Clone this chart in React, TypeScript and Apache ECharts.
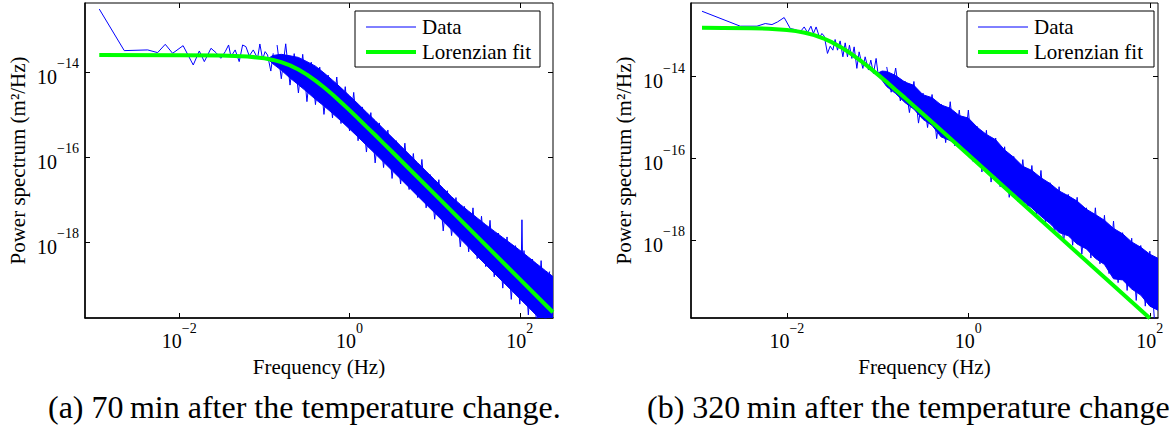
import React, { useEffect, useRef } from 'react';
import * as echarts from 'echarts';

const FONT = 'Liberation Serif, DejaVu Serif, serif';
const BLUE = '#0000ff';
const GREEN = '#00ff00';

// ---------- Panel (a): 70 min ----------
const aLowFreq = [1.15e-3, 2.26e-3, 4.26e-3, 5.57e-3, 6.85e-3, 8.36e-3, 1.11e-2, 1.46e-2, 1.72e-2, 1.97e-2, 2.36e-2, 2.7e-2, 3.08e-2, 3.47e-2, 3.8e-2, 4.05e-2, 4.54e-2, 5.06e-2, 5.55e-2, 6.07e-2, 6.64e-2, 7.4e-2, 8.32e-2, 8.85e-2, 9.53e-2, 0.102, 0.109, 0.119, 0.127];
const aLowPsd = [3.03e-13, 3.18e-14, 3.3e-14, 2.85e-14, 4.48e-14, 2.75e-14, 4.16e-14, 1.46e-14, 3.12e-14, 1.75e-14, 3.61e-14, 2.85e-14, 2.1e-14, 3.01e-14, 4.32e-14, 2.29e-14, 3.3e-14, 1.75e-14, 4.32e-14, 3.94e-14, 2.38e-14, 3.3e-14, 2.1e-14, 4.56e-14, 1.99e-14, 3.01e-14, 2.51e-14, 1.05e-14, 2.75e-14];
const aBandFreq = [0.112, 0.126, 0.158, 0.2, 0.251, 0.316, 0.398, 0.501, 0.631, 0.794, 1, 1.26, 1.58, 2.0, 2.51, 3.16, 3.98, 5.01, 6.31, 7.94, 10, 12.6, 15.8, 20, 25.1, 31.6, 39.8, 50.1, 63.1, 79.4, 100, 126, 158, 200, 245];
const aBandUpper = [2.1e-14, 2.45e-14, 2.6e-14, 2.4e-14, 2.2e-14, 1.75e-14, 1.37e-14, 9.52e-15, 6.41e-15, 4.24e-15, 2.75e-15, 1.77e-15, 1.13e-15, 7.18e-16, 4.55e-16, 2.88e-16, 1.82e-16, 1.15e-16, 7.26e-17, 4.58e-17, 2.89e-17, 1.82e-17, 1.15e-17, 7.6e-18, 5.26e-18, 3.64e-18, 2.52e-18, 1.78e-18, 1.26e-18, 8.93e-19, 6.32e-19, 4.38e-19, 3.03e-19, 2.09e-19, 1.52e-19];
const aBandLower = [1.95e-14, 1.55e-14, 1.1e-14, 7.2e-15, 5.0e-15, 3.4e-15, 2.27e-15, 1.58e-15, 1.06e-15, 7.03e-16, 4.56e-16, 2.93e-16, 1.87e-16, 1.19e-16, 7.55e-17, 4.78e-17, 3.02e-17, 1.91e-17, 1.2e-17, 7.6e-18, 4.8e-18, 3.03e-18, 1.91e-18, 1.18e-18, 7.43e-19, 4.58e-19, 2.89e-19, 1.82e-19, 1.15e-19, 7.26e-20, 4.58e-20, 2.89e-20, 1.82e-20, 1.15e-20, 7.6e-21];
const aNoiseFreq = [0.141, 0.158, 0.178, 0.2, 0.224, 0.251, 0.282, 0.316, 0.355, 0.398, 0.447, 0.501, 0.562, 0.631, 0.708, 0.794, 0.891, 1, 1.12, 1.26, 1.41, 1.58, 1.78, 2.0, 2.24, 2.51, 2.82, 3.16, 3.55, 3.98, 4.47, 5.01, 5.62, 6.31, 7.08, 7.94, 8.91, 10, 11.2, 12.6, 14.1, 15.8, 17.8, 20, 22.4, 25.1, 28.2, 31.6, 35.5, 39.8, 44.7, 50.1, 56.2, 63.1, 70.8, 79.4, 89.1, 100, 112, 126, 141, 158, 178, 200, 224];
const aNoisePsd = [4.3e-14, 6.9e-15, 4.6e-14, 4.9e-15, 2.7e-14, 3.2e-15, 2.6e-14, 2.0e-15, 1.7e-14, 1.7e-15, 1.3e-14, 1.0e-15, 8.4e-15, 8.3e-16, 7.6e-15, 6.1e-16, 4.5e-15, 4.1e-16, 3.3e-15, 2.4e-16, 1.5e-15, 1.3e-16, 1.1e-15, 7.2e-17, 6.3e-16, 5.6e-17, 4.3e-16, 3.1e-17, 2.4e-16, 2.3e-17, 2.1e-16, 1.7e-17, 1.2e-16, 1.1e-17, 8.7e-17, 6.3e-18, 3.8e-17, 3.4e-18, 2.9e-17, 1.8e-18, 1.6e-17, 1.4e-18, 1.1e-17, 7.6e-19, 6.8e-18, 5.8e-19, 6.3e-18, 4.0e-19, 4.0e-18, 2.6e-19, 3.2e-18, 1.5e-19, 1.6e-18, 8.1e-20, 1.3e-18, 4.4e-20, 8.1e-19, 3.4e-20, 6.2e-19, 1.9e-20, 3.9e-19, 1.0e-20, 3.6e-19, 1.0e-20, 2.0e-19];
const aSpikeFreq = [104, 106, 108];
const aSpikePsd = [3.0e-19, 3.3e-18, 3.0e-19];
const aFitFreq = [1.15e-3, 1e-2, 3.16e-2, 6.31e-2, 0.1, 0.126, 0.158, 0.2, 0.251, 0.316, 0.398, 0.501, 0.631, 0.794, 1, 1.26, 1.58, 2.0, 2.51, 3.16, 5.01, 10, 31.6, 100, 245];
const aFitPsd = [2.5e-14, 2.49e-14, 2.45e-14, 2.32e-14, 2.1e-14, 1.92e-14, 1.7e-14, 1.43e-14, 1.14e-14, 8.65e-15, 6.25e-15, 4.35e-15, 2.93e-15, 1.94e-15, 1.26e-15, 8.07e-16, 5.15e-16, 3.28e-16, 2.08e-16, 1.32e-16, 5.26e-17, 1.32e-17, 1.32e-18, 1.32e-19, 2.19e-20];

// ---------- Panel (b): 320 min ----------
const bLowFreq = [1.16e-3, 3.06e-3, 4.68e-3, 5.77e-3, 6.84e-3, 7.89e-3, 9.33e-3, 1.09e-2, 1.23e-2, 1.4e-2, 1.55e-2, 1.69e-2, 1.84e-2, 1.96e-2, 2.1e-2, 2.29e-2, 2.43e-2, 2.58e-2, 2.8e-2, 3.0e-2, 3.21e-2, 3.4e-2, 3.61e-2, 3.86e-2, 4.14e-2, 4.39e-2, 4.65e-2, 4.89e-2, 5.2e-2, 5.51e-2, 5.9e-2, 6.25e-2, 6.87e-2, 7.28e-2, 7.93e-2, 8.41e-2, 8.99e-2, 9.62e-2, 0.102];
const bLowPsd = [3.92e-13, 1.69e-13, 1.69e-13, 1.96e-13, 1.85e-13, 2.15e-13, 2.75e-13, 1.48e-13, 1.4e-13, 1.22e-13, 1.62e-13, 1.18e-13, 1.69e-13, 1.12e-13, 1.62e-13, 8.93e-14, 1.12e-13, 9.62e-14, 3.64e-14, 5.48e-14, 4.38e-14, 7.98e-14, 4.38e-14, 7.38e-14, 3.01e-14, 6.61e-14, 3.01e-14, 5.79e-14, 2.75e-14, 5.27e-14, 1.57e-14, 3.98e-14, 1.57e-14, 3.01e-14, 1.43e-14, 2.5e-14, 1.18e-14, 2.75e-14, 9.79e-15];
const bBandFreq = [0.1, 0.112, 0.126, 0.158, 0.2, 0.251, 0.316, 0.398, 0.501, 0.631, 0.794, 1, 1.26, 1.58, 2.0, 2.51, 3.16, 3.98, 5.01, 6.31, 7.94, 10, 12.6, 15.8, 20, 25.1, 31.6, 39.8, 50.1, 63.1, 79.4, 100, 123];
const bBandUpper = [1.2e-14, 1.35e-14, 1.32e-14, 1.05e-14, 7.24e-15, 6.03e-15, 3.55e-15, 3.02e-15, 2.0e-15, 1.66e-15, 1.1e-15, 9.55e-16, 5.62e-16, 3.8e-16, 2.82e-16, 1.58e-16, 1.05e-16, 6.31e-17, 5.01e-17, 3.31e-17, 2.4e-17, 1.58e-17, 1.2e-17, 8.91e-18, 5.62e-18, 4.17e-18, 3.02e-18, 1.91e-18, 1.41e-18, 8.91e-19, 6.61e-19, 4.47e-19, 3.55e-19];
const bBandLower = [1.05e-14, 8.0e-15, 5.62e-15, 3.8e-15, 2.29e-15, 1.58e-15, 8.91e-16, 6.31e-16, 3.31e-16, 2.69e-16, 1.91e-16, 1.2e-16, 8.32e-17, 5.01e-17, 3.55e-17, 2.0e-17, 1.38e-17, 8.91e-18, 6.03e-18, 3.8e-18, 2.51e-18, 1.51e-18, 1.26e-18, 7.94e-19, 6.03e-19, 3.55e-19, 2.51e-19, 1.12e-19, 1.05e-19, 6.31e-20, 4.47e-20, 2.4e-20, 1.91e-20];
const bNoiseFreq = [0.126, 0.141, 0.158, 0.178, 0.2, 0.224, 0.251, 0.282, 0.316, 0.355, 0.398, 0.447, 0.501, 0.562, 0.631, 0.708, 0.794, 0.891, 1, 1.12, 1.26, 1.41, 1.58, 1.78, 2.0, 2.24, 2.51, 2.82, 3.16, 3.55, 3.98, 4.47, 5.01, 5.62, 6.31, 7.08, 7.94, 8.91, 10, 11.2, 12.6, 14.1, 15.8, 17.8, 20, 22.4, 25.1, 28.2, 31.6, 35.5, 39.8, 44.7, 50.1, 56.2, 63.1, 70.8, 79.4, 89.1, 100, 112];
const bNoisePsd = [1.7e-14, 4.1e-15, 1.6e-14, 2.5e-15, 7.7e-15, 1.3e-15, 7.5e-15, 7.2e-16, 3.9e-15, 5.6e-16, 3.6e-15, 3.0e-16, 2.1e-15, 2.4e-16, 2.4e-15, 2.0e-16, 1.5e-15, 1.4e-16, 1.5e-15, 8.4e-17, 5.9e-16, 4.6e-17, 4.8e-16, 2.6e-17, 3.1e-16, 2.0e-17, 1.9e-16, 1.1e-17, 1.1e-16, 8.6e-18, 9.2e-17, 6.3e-18, 6.6e-17, 4.3e-18, 5.0e-17, 2.6e-18, 2.5e-17, 1.4e-18, 2.0e-17, 8.4e-19, 1.3e-17, 7.4e-19, 1.1e-17, 4.5e-19, 6.1e-18, 3.6e-19, 6.1e-18, 2.6e-19, 4.0e-18, 1.5e-19, 2.9e-18, 9.0e-20, 1.5e-18, 5.8e-20, 1.1e-18, 3.3e-20, 7.3e-19, 2.4e-20, 5.3e-19, 1.2e-20];
const bFitFreq = [1.16e-3, 2e-3, 4e-3, 6.31e-3, 1e-2, 1.26e-2, 1.58e-2, 2e-2, 2.51e-2, 3.16e-2, 3.98e-2, 5.01e-2, 6.31e-2, 7.94e-2, 0.1, 0.126, 0.158, 0.2, 0.251, 0.316, 0.501, 1, 10, 100];
const bFitPsd = [1.54e-13, 1.53e-13, 1.51e-13, 1.47e-13, 1.37e-13, 1.28e-13, 1.17e-13, 1.02e-13, 8.55e-14, 6.78e-14, 5.11e-14, 3.67e-14, 2.54e-14, 1.71e-14, 1.12e-14, 7.28e-15, 4.67e-15, 2.98e-15, 1.89e-15, 1.2e-15, 4.81e-16, 1.21e-16, 1.21e-18, 1.21e-20];

// ---------- Ticks & texts ----------
const xTickExps = [-2, 0, 2];
const yTickExps = [-18, -16, -14];
const legendNames = ['Data', 'Lorenzian fit'];
const xAxisTitle = 'Frequency (Hz)';
const yAxisTitle = 'Power spectrum (m\u00b2/Hz)';
const captions = ['(a) 70\u2009min after the temperature change.', '(b) 320\u2009min after the temperature change'];

const pairs = (xs: number[], ys: number[]) => xs.map((x, i) => [x, ys[i]]);
const expText = (v: number) => {
  const n = Math.round(v);
  return n < 0 ? '\u2212' + Math.abs(n) : String(n);
};

export default function App() {
  const ref = useRef<HTMLDivElement>(null);
  useEffect(() => {
    document.body.style.margin = '0';
    const chart = echarts.init(ref.current!, undefined, { renderer: 'svg' });

    const panels = [
      {
        grid: { left: 85, top: 3, width: 468, height: 315 },
        xr: [-3.107, 2.39], yr: [-19.795, -12.376],
        low: pairs(aLowFreq, aLowPsd), bandF: aBandFreq, bandU: aBandUpper, bandL: aBandLower,
        noise: pairs(aNoiseFreq, aNoisePsd),
        spike: pairs(aSpikeFreq, aSpikePsd), fit: pairs(aFitFreq, aFitPsd),
        legend: { x: 355, w: 185 }, capX: 48,
      },
      {
        grid: { left: 691, top: 3, width: 467, height: 315 },
        xr: [-3.057, 2.09], yr: [-19.91, -12.205],
        low: pairs(bLowFreq, bLowPsd), bandF: bBandFreq, bandU: bBandUpper, bandL: bBandLower,
        noise: pairs(bNoiseFreq, bNoisePsd),
        spike: null as any, fit: pairs(bFitFreq, bFitPsd),
        legend: { x: 967, w: 187 }, capX: 647,
      },
    ];

    const rich = {
      b: { fontSize: 20, fontFamily: FONT, color: '#000', lineHeight: 30, verticalAlign: 'bottom' },
      s: { fontSize: 14, fontFamily: FONT, color: '#000', lineHeight: 12, verticalAlign: 'top' },
    };
    const fmt = (v: number) => `{b|10}{s|${expText(v)}}`;
    const tickStyle = { show: true, inside: true, length: 5, lineStyle: { color: '#000', width: 1 } };

    const grids: any[] = [];
    const xAxes: any[] = [];
    const yAxes: any[] = [];
    const series: any[] = [];
    const graphics: any[] = [];
    const thinBlue = { symbol: 'none', showSymbol: false, lineStyle: { color: BLUE, width: 1 }, z: 3, silent: true };

    panels.forEach((p, i) => {
      grids.push({ ...p.grid, show: true, borderColor: '#000', borderWidth: 1, backgroundColor: '#fff' });
      xAxes.push({ type: 'log', gridIndex: i, min: Math.pow(10, p.xr[0]), max: Math.pow(10, p.xr[1]), show: false });
      yAxes.push({ type: 'log', gridIndex: i, min: Math.pow(10, p.yr[0]), max: Math.pow(10, p.yr[1]), show: false });
      xAxes.push({
        type: 'value', gridIndex: i, position: 'bottom', min: p.xr[0], max: p.xr[1],
        axisLine: { show: true, onZero: false, lineStyle: { color: '#000', width: 1.5 } },
        axisTick: { ...tickStyle, customValues: xTickExps },
        axisLabel: { customValues: xTickExps, formatter: fmt, rich, margin: 3 },
        splitLine: { show: false },
      });
      xAxes.push({
        type: 'value', gridIndex: i, position: 'top', min: p.xr[0], max: p.xr[1],
        axisLine: { show: false, onZero: false },
        axisTick: { ...tickStyle, customValues: xTickExps },
        axisLabel: { show: false }, splitLine: { show: false },
      });
      yAxes.push({
        type: 'value', gridIndex: i, position: 'left', min: p.yr[0], max: p.yr[1],
        axisLine: { show: true, onZero: false, lineStyle: { color: '#000', width: 1.5 } },
        axisTick: { ...tickStyle, customValues: yTickExps },
        axisLabel: { customValues: yTickExps, formatter: fmt, rich, margin: 6 },
        splitLine: { show: false },
      });
      yAxes.push({
        type: 'value', gridIndex: i, position: 'right', min: p.yr[0], max: p.yr[1],
        axisLine: { show: false, onZero: false },
        axisTick: { ...tickStyle, customValues: yTickExps },
        axisLabel: { show: false }, splitLine: { show: false },
      });
      const xi = i * 3;
      const yi = i * 3;
      const bandF = p.bandF, bandU = p.bandU, bandL = p.bandL;
      series.push({
        type: 'custom', name: legendNames[0], xAxisIndex: xi, yAxisIndex: yi, coordinateSystem: 'cartesian2d',
        clip: true, silent: true, z: 2,
        data: [[bandF[0], bandU[0]]],
        renderItem: (params: any, api: any) => {
          const pts: number[][] = [];
          for (let k = 0; k < bandF.length; k++) pts.push(api.coord([bandF[k], bandU[k]]));
          for (let k = bandF.length - 1; k >= 0; k--) pts.push(api.coord([bandF[k], bandL[k]]));
          const cs = params.coordSys;
          return {
            type: 'polygon',
            shape: { points: pts },
            style: { fill: BLUE, stroke: BLUE, lineWidth: 1 },
            clipPath: { type: 'rect', shape: { x: cs.x, y: cs.y, width: cs.width, height: cs.height } },
          };
        },
      });
      series.push({ type: 'line', name: legendNames[0], xAxisIndex: xi, yAxisIndex: yi, data: p.noise, ...thinBlue });
      series.push({ type: 'line', name: legendNames[0], xAxisIndex: xi, yAxisIndex: yi, data: p.low, ...thinBlue });
      if (p.spike) {
        series.push({ type: 'line', name: legendNames[0], xAxisIndex: xi, yAxisIndex: yi, data: p.spike, ...thinBlue });
      }
      series.push({
        type: 'line', name: legendNames[1], xAxisIndex: xi, yAxisIndex: yi, data: p.fit,
        symbol: 'none', showSymbol: false, lineStyle: { color: GREEN, width: 4 }, z: 4, silent: true,
      });

      const lx = p.legend.x;
      graphics.push({ type: 'rect', z: 100, shape: { x: lx, y: 11, width: p.legend.w, height: 56 }, style: { fill: '#fff', stroke: '#000', lineWidth: 1 } });
      graphics.push({ type: 'line', z: 101, shape: { x1: lx + 11, y1: 27, x2: lx + 61, y2: 27 }, style: { stroke: BLUE, lineWidth: 1 } });
      graphics.push({ type: 'line', z: 101, shape: { x1: lx + 11, y1: 52, x2: lx + 61, y2: 52 }, style: { stroke: GREEN, lineWidth: 4 } });
      legendNames.forEach((nm, k) => {
        graphics.push({
          type: 'text', z: 101, x: lx + 67, y: k === 0 ? 27 : 52,
          style: { text: nm, font: `21px ${FONT}`, fontSize: 21, fontFamily: FONT, fill: '#000', align: 'left', verticalAlign: 'middle', textAlign: 'left', textVerticalAlign: 'middle' },
        });
      });
      const cx = p.grid.left + p.grid.width / 2;
      graphics.push({
        type: 'text', x: cx, y: 367,
        style: { text: xAxisTitle, font: `21px ${FONT}`, fontSize: 21, fontFamily: FONT, fill: '#000', align: 'center', verticalAlign: 'middle', textAlign: 'center', textVerticalAlign: 'middle' },
      });
      graphics.push({
        type: 'text', x: p.grid.left - 67, y: p.grid.top + p.grid.height / 2, rotation: Math.PI / 2,
        style: { text: yAxisTitle, font: `21px ${FONT}`, fontSize: 21, fontFamily: FONT, fill: '#000', align: 'center', verticalAlign: 'middle', textAlign: 'center', textVerticalAlign: 'middle' },
      });
      graphics.push({
        type: 'text', x: p.capX, y: 407,
        style: { text: captions[i], font: `32px ${FONT}`, fontSize: 32, fontFamily: FONT, fill: '#000', align: 'left', verticalAlign: 'middle', textAlign: 'left', textVerticalAlign: 'middle' },
      });
    });

    chart.setOption({
      animation: false,
      backgroundColor: '#fff',
      textStyle: { fontFamily: FONT },
      grid: grids,
      xAxis: xAxes,
      yAxis: yAxes,
      series,
      graphic: { elements: graphics },
    });
    return () => chart.dispose();
  }, []);
  return <div ref={ref} style={{ width: 1170, height: 425 }} />;
}
